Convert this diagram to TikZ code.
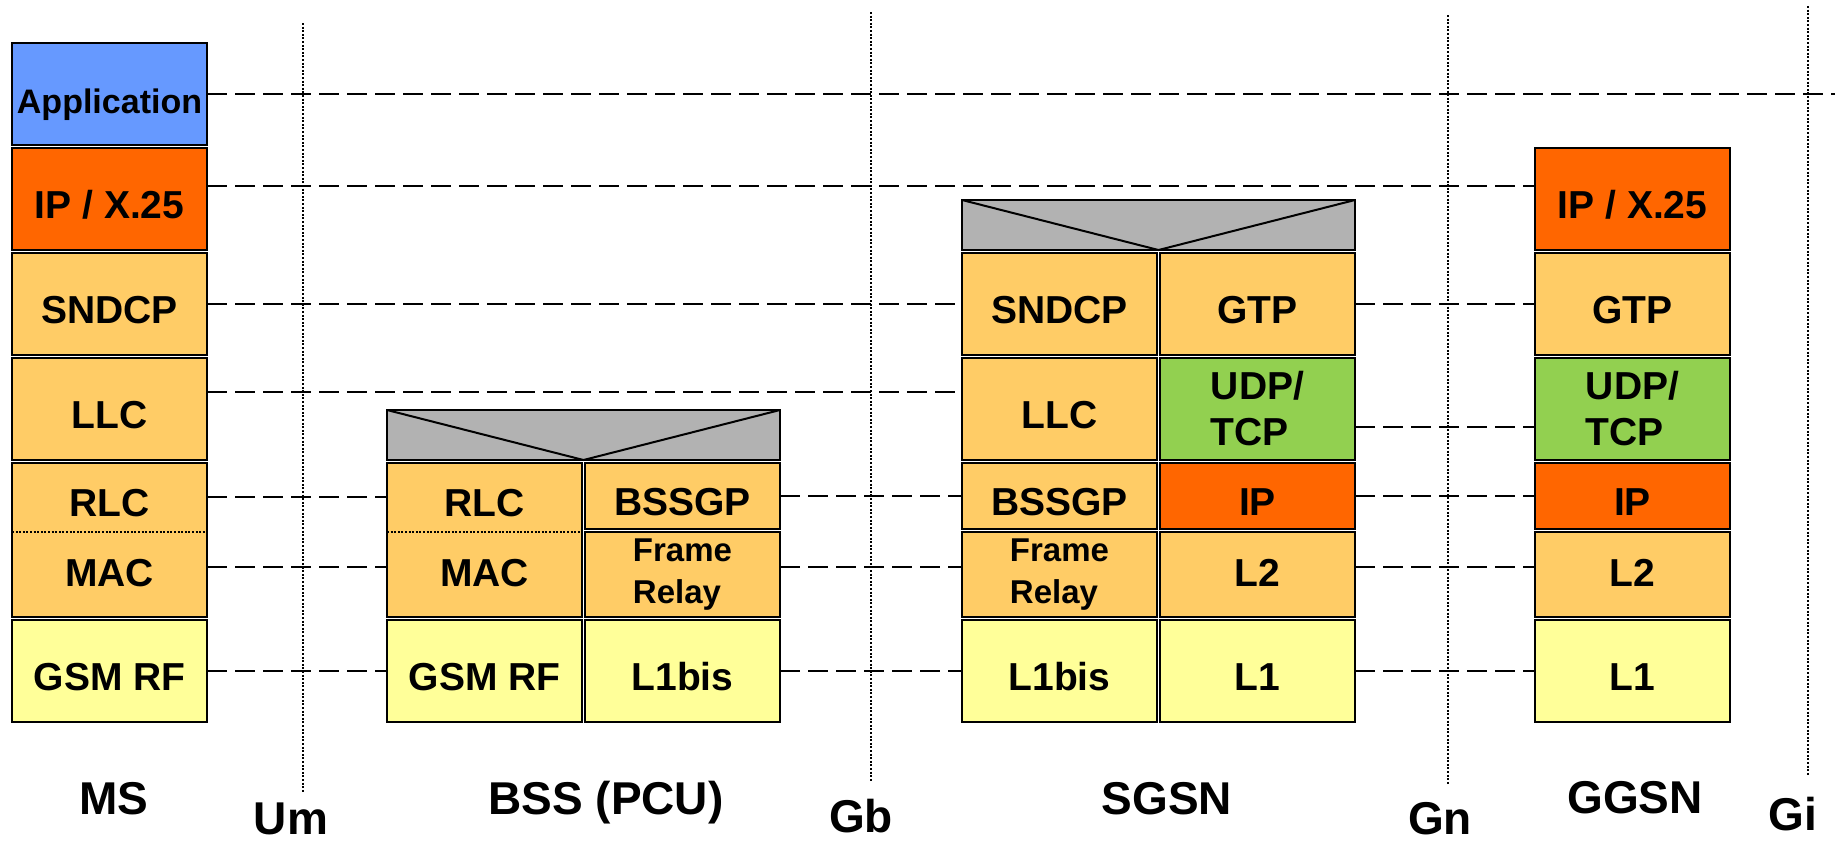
\documentclass[tikz,border=0pt]{standalone}
\usepackage{fontspec}
\setmainfont{Liberation Sans}
\usetikzlibrary{positioning}
\definecolor{appblue}{HTML}{6699FF}
\definecolor{iporange}{HTML}{FF6600}
\definecolor{layerorange}{HTML}{FFCC66}
\definecolor{phyyellow}{HTML}{FFFF99}
\definecolor{tcpgreen}{HTML}{92D050}
\definecolor{headgray}{HTML}{B2B2B2}

\begin{document}
\begin{tikzpicture}[x=0.5pt,y=-0.5pt,node distance=1.5pt,
  every node/.style={font=\bfseries\fontsize{19.5}{23}\selectfont},
  layer/.style={draw,line width=1.3pt,fill=#1,outer sep=0pt,inner sep=0pt,minimum width=97.5pt,minimum height=51pt,text height=19.5pt,text depth=0pt},
  hsmall/.style={minimum height=33pt},
  hmid/.style={minimum height=42.5pt},
  hpair/.style={minimum height=77pt},
  twoline/.style={align=left,text height={},text depth={}},
  head/.style={draw,line width=1.3pt,fill=headgray,outer sep=0pt,inner sep=0pt,minimum width=196.5pt,minimum height=25pt,anchor=north west},
  sublabel/.style={inner sep=0pt,text height=19.5pt,text depth=0pt},
  netlabel/.style={font=\bfseries\fontsize{23}{26}\selectfont,inner sep=0pt,anchor=base},
  peer/.style={line width=1.4pt,dash pattern=on 10pt off 4pt},
  iface/.style={line width=1.2pt,dash pattern=on 1pt off 0.8pt}]
\useasboundingbox (0,0) rectangle (1835,842);

% interfaces
\coordinate (umtop) at (303,23);   \coordinate (umbot) at (303,793);
\coordinate (gbtop) at (871,12);   \coordinate (gbbot) at (871,782);
\coordinate (gntop) at (1448,15);  \coordinate (gnbot) at (1448,785);
\coordinate (gitop) at (1808,6);   \coordinate (gibot) at (1808,776);
\draw[iface] (umtop) -- (umbot);
\draw[iface] (gbtop) -- (gbbot);
\draw[iface] (gntop) -- (gnbot);
\draw[iface] (gitop) -- (gibot);

% MS
\node[layer=appblue,anchor=north west,font=\bfseries\fontsize{17}{20}\selectfont] (msapp) at (12,43) {Application};
\node[layer=iporange,below=of msapp] (msipx) {IP / X.25};
\node[layer=layerorange,below=of msipx] (mssndcp) {SNDCP};
\node[layer=layerorange,below=of mssndcp] (msllc) {LLC};
\node[layer=layerorange,hpair,below=of msllc] (msrlcmac) {};
\node[layer=phyyellow,below=of msrlcmac] (msgsm) {GSM RF};
\draw[iface] ([yshift=-34.5pt]msrlcmac.north west) -- ([yshift=-34.5pt]msrlcmac.north east);
\node[sublabel] (msrlc) at ([yshift=-17pt]msrlcmac.north) {RLC};
\node[sublabel] (msmac) at ([yshift=-52pt]msrlcmac.north) {MAC};

% BSS
\node[head] (bsshead) at (387,410) {};
\draw[line width=1pt] (bsshead.north west) -- (bsshead.south) -- (bsshead.north east);
\node[layer=layerorange,hpair,below=of bsshead.south west,anchor=north west] (bssrlcmac) {};
\node[layer=layerorange,hsmall,right=of bssrlcmac.north east,anchor=north west] (bssbssgp) {BSSGP};
\node[layer=layerorange,hmid,twoline,below=of bssbssgp,font=\bfseries\fontsize{16.5}{21}\selectfont] (bssfr) {Frame\\Relay};
\node[layer=phyyellow,below=of bssrlcmac] (bssgsm) {GSM RF};
\node[layer=phyyellow,below=of bssfr] (bssl1bis) {L1bis};
\draw[iface] ([yshift=-34.5pt]bssrlcmac.north west) -- ([yshift=-34.5pt]bssrlcmac.north east);
\node[sublabel] (bssrlc) at ([yshift=-17pt]bssrlcmac.north) {RLC};
\node[sublabel] (bssmac) at ([yshift=-52pt]bssrlcmac.north) {MAC};

% SGSN
\node[head] (sgsnhead) at (962,200) {};
\draw[line width=1pt] (sgsnhead.north west) -- (sgsnhead.south) -- (sgsnhead.north east);
\node[layer=layerorange,below=of sgsnhead.south west,anchor=north west] (sgsnsndcp) {SNDCP};
\node[layer=layerorange,right=of sgsnsndcp.north east,anchor=north west] (sgsngtp) {GTP};
\node[layer=layerorange,below=of sgsnsndcp] (sgsnllc) {LLC};
\node[layer=tcpgreen,twoline,below=of sgsngtp] (sgsnudp) {UDP/\\TCP};
\node[layer=layerorange,hsmall,below=of sgsnllc] (sgsnbssgp) {BSSGP};
\node[layer=iporange,hsmall,below=of sgsnudp] (sgsnip) {IP};
\node[layer=layerorange,hmid,twoline,below=of sgsnbssgp,font=\bfseries\fontsize{16.5}{21}\selectfont] (sgsnfr) {Frame\\Relay};
\node[layer=layerorange,hmid,text height=11.5pt,below=of sgsnip] (sgsnl2) {L2};
\node[layer=phyyellow,below=of sgsnfr] (sgsnl1bis) {L1bis};
\node[layer=phyyellow,below=of sgsnl2] (sgsnl1) {L1};

% GGSN
\node[layer=iporange,anchor=north west] (ggsnipx) at (1535,148) {IP / X.25};
\node[layer=layerorange,below=of ggsnipx] (ggsngtp) {GTP};
\node[layer=tcpgreen,twoline,below=of ggsngtp] (ggsnudp) {UDP/\\TCP};
\node[layer=iporange,hsmall,below=of ggsnudp] (ggsnip) {IP};
\node[layer=layerorange,hmid,text height=11.5pt,below=of ggsnip] (ggsnl2) {L2};
\node[layer=phyyellow,below=of ggsnl2] (ggsnl1) {L1};

% peer protocols
\coordinate (append) at (1835,94);
\draw[peer] (msapp.east) -- (append);
\draw[peer] ([yshift=-19pt]msipx.north east) -- ([yshift=-19pt]ggsnipx.north west);
\draw[peer] (mssndcp.east) -- (sgsnsndcp.west);
\draw[peer] ([yshift=-17pt]msllc.north east) -- ([yshift=-17pt]sgsnllc.north west);
\draw[peer] (msrlcmac.east |- msrlc) -- (bssrlcmac.west |- msrlc);
\draw[peer] (msrlcmac.east |- msmac) -- (bssrlcmac.west |- msmac);
\draw[peer] (msgsm.east) -- (bssgsm.west);
\draw[peer] (bssbssgp.east) -- (sgsnbssgp.west);
\draw[peer] ([yshift=-17.5pt]bssfr.north east) -- ([yshift=-17.5pt]sgsnfr.north west);
\draw[peer] (bssl1bis.east) -- (sgsnl1bis.west);
\draw[peer] (sgsngtp.east) -- (ggsngtp.west);
\draw[peer] ([yshift=-34.5pt]sgsnudp.north east) -- ([yshift=-34.5pt]ggsnudp.north west);
\draw[peer] (sgsnip.east) -- (ggsnip.west);
\draw[peer] ([yshift=-17.5pt]sgsnl2.north east) -- ([yshift=-17.5pt]ggsnl2.north west);
\draw[peer] (sgsnl1.east) -- (ggsnl1.west);

% network elements
\node[netlabel] (mslabel) at (114,814) {MS};
\node[netlabel] (umlabel) at (291,834) {Um};
\node[netlabel] (bsslabel) at (606,814) {BSS (PCU)};
\node[netlabel] (gblabel) at (861,832) {Gb};
\node[netlabel] (sgsnlabel) at (1167,814) {SGSN};
\node[netlabel] (gnlabel) at (1440,834) {Gn};
\node[netlabel] (ggsnlabel) at (1635,813) {GGSN};
\node[netlabel] (gilabel) at (1793,830) {Gi};
\end{tikzpicture}
\end{document}
